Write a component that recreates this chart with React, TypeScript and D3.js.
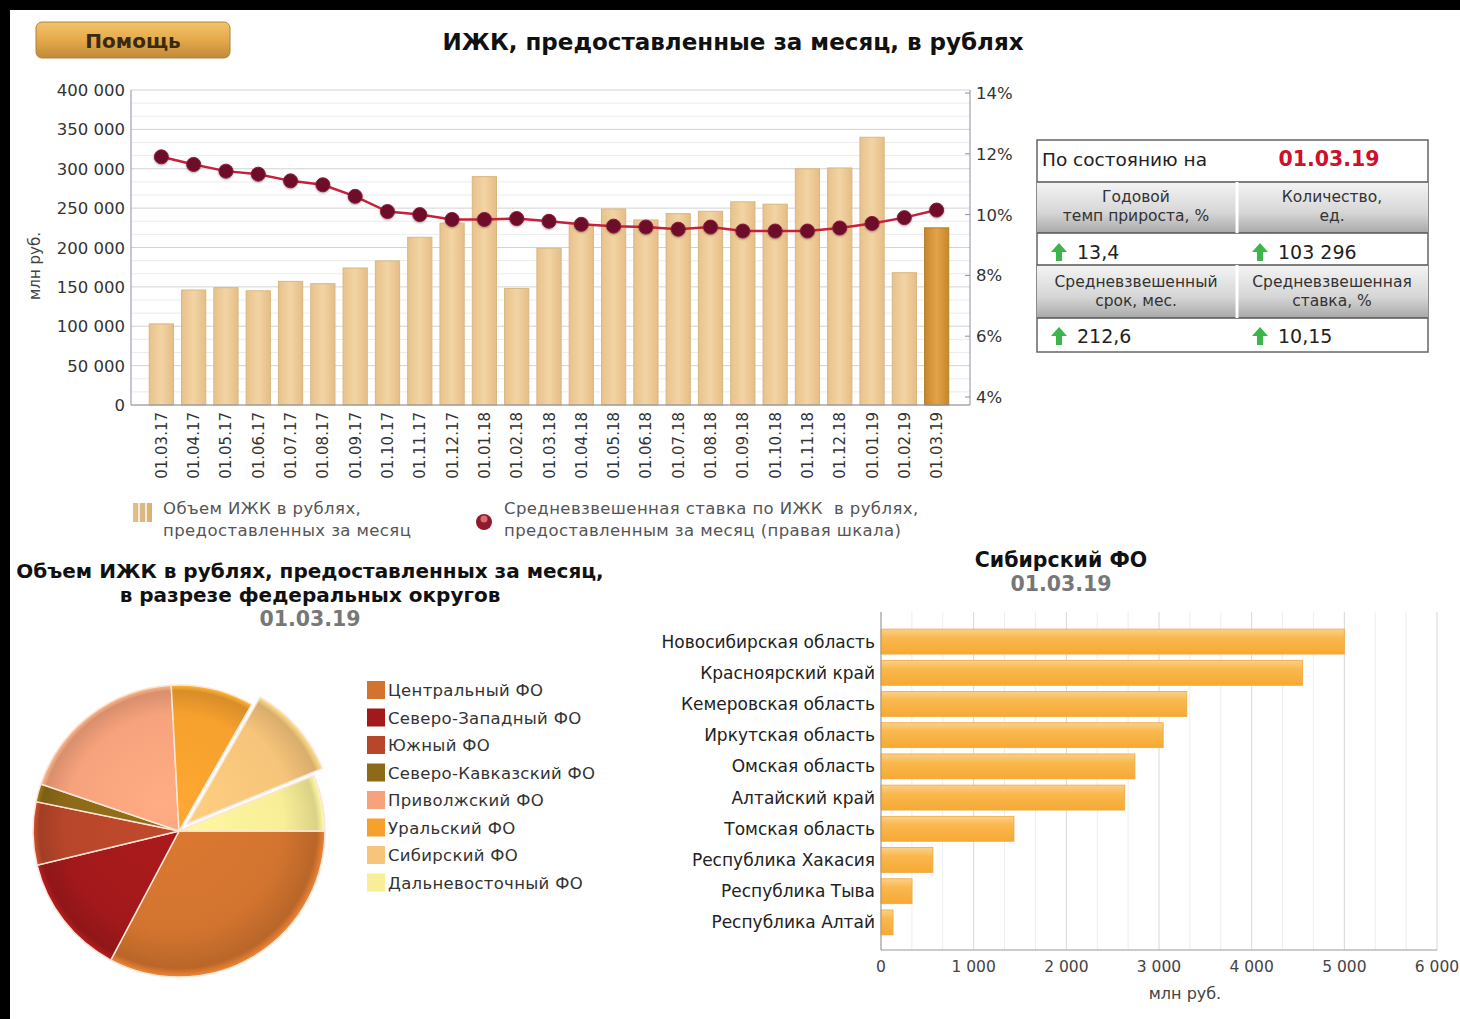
import React from "react";
import * as d3 from "d3";

const months = ["01.03.17","01.04.17","01.05.17","01.06.17","01.07.17","01.08.17","01.09.17","01.10.17","01.11.17","01.12.17","01.01.18","01.02.18","01.03.18","01.04.18","01.05.18","01.06.18","01.07.18","01.08.18","01.09.18","01.10.18","01.11.18","01.12.18","01.01.19","01.02.19","01.03.19"];
const volumes = [103000,146000,149000,145000,157000,154000,174000,183000,213000,231000,290000,148000,199000,229000,249000,235000,243000,246000,258000,255000,300000,301000,340000,168000,225000];
const rates = [11.9,11.65,11.43,11.33,11.11,10.98,10.6,10.1,10.0,9.84,9.84,9.87,9.78,9.68,9.62,9.59,9.52,9.59,9.46,9.46,9.46,9.56,9.71,9.9,10.15];
const leftTicks = [0,50000,100000,150000,200000,250000,300000,350000,400000];
const rightTicks = [4,6,8,10,12,14];

const districts = ["Центральный ФО","Северо-Западный ФО","Южный ФО","Северо-Кавказский ФО","Приволжский ФО","Уральский ФО","Сибирский ФО","Дальневосточный ФО"];
const districtValues = [74000,30500,15800,4500,42800,20700,23720,14000];
const districtColors = ["#d2742f","#a3191b","#b8462a","#8d6a18","#f6a27c","#f6a02e","#f6c47a","#f8ee98"];

const regions = ["Новосибирская область","Красноярский край","Кемеровская область","Иркутская область","Омская область","Алтайский край","Томская область","Республика Хакасия","Республика Тыва","Республика Алтай"];
const regionValues = [5000,4550,3300,3045,2740,2630,1435,560,335,130];
const regionTicks = [0,1000,2000,3000,4000,5000,6000];

const FONT = "'DejaVu Sans', Verdana, sans-serif";
const fmt = (v: number) => d3.format(",")(v).replace(/,/g, " ");

function TopChart() {
  const x0 = 131, x1 = 970, yTop = 90, yBot = 405;
  const x = d3.scaleBand().domain(months).range([x0 + 15, x1 - 18]).paddingInner(0.25).paddingOuter(0.1);
  const y = d3.scaleLinear().domain([0, 400000]).range([yBot, yTop]);
  const yr = d3.scaleLinear().domain([4, 14]).range([yBot - 8, yTop + 3]);
  const minor = d3.range(0, 400001, 50000 / 3);
  const line = d3.line<number>().x((_, i) => (x(months[i]) as number) + x.bandwidth() / 2).y(d => yr(d));
  return (
    <g>
      {minor.map((v, i) => (
        <line key={"m" + i} x1={x0} x2={x1} y1={y(v)} y2={y(v)} stroke={i % 3 === 0 ? "#d2d2d2" : "#ececec"} strokeWidth={1} />
      ))}
      {volumes.map((v, i) => {
        const last = i === volumes.length - 1;
        return (
          <rect key={i} x={x(months[i])} y={y(v)} width={x.bandwidth()} height={yBot - y(v)}
            fill={last ? "url(#barLast)" : "url(#barTan)"} stroke={last ? "#b8802a" : "#d8b782"} strokeWidth={1} />
        );
      })}
      <line x1={x0} x2={x0} y1={yTop} y2={yBot} stroke="#8a8fa3" />
      <line x1={x1} x2={x1} y1={yTop} y2={yBot} stroke="#8a8fa3" />
      <line x1={x0} x2={x1} y1={yBot} y2={yBot} stroke="#8a8fa3" />
      {leftTicks.map(t => (
        <text key={t} x={x0 - 6} y={y(t) + 6} textAnchor="end" fontSize={16.5} fill="#333" fontFamily={FONT}>{fmt(t)}</text>
      ))}
      {rightTicks.map(t => (
        <g key={t}>
          <line x1={x1 - 5} x2={x1} y1={yr(t)} y2={yr(t)} stroke="#8a8fa3" />
          <text x={x1 + 6} y={yr(t) + 6} fontSize={16.5} fill="#333" fontFamily={FONT}>{t}%</text>
        </g>
      ))}
      <text transform={`translate(40,266) rotate(-90)`} textAnchor="middle" fontSize={15} fill="#444" fontFamily={FONT}>млн руб.</text>
      {months.map(m => (
        <text key={m} transform={`translate(${(x(m) as number) + x.bandwidth() / 2 + 5.5},412) rotate(-90)`} textAnchor="end" fontSize={15} fill="#333" fontFamily={FONT}>{m}</text>
      ))}
      <path d={line(rates) as string} fill="none" stroke="#c8203c" strokeWidth={2.5} />
      {rates.map((r, i) => (
        <circle key={i} cx={(x(months[i]) as number) + x.bandwidth() / 2} cy={yr(r)} r={7} fill="#6e0b2c" stroke="#8a1a3a" strokeWidth={1} filter="url(#soft)" />
      ))}
      {/* legend */}
      <rect x={133} y={503} width={19} height={19} fill="url(#legTan)" />
      <line x1={139} x2={139} y1={503} y2={522} stroke="#fff" strokeWidth={1.5} />
      <line x1={146} x2={146} y1={503} y2={522} stroke="#fff" strokeWidth={1.5} />
      <text x={163} y={514} fontSize={16.5} letterSpacing={0.4} fill="#555" fontFamily={FONT}>Объем ИЖК в рублях,</text>
      <text x={163} y={536} fontSize={16.5} letterSpacing={0.4} fill="#555" fontFamily={FONT}>предоставленных за месяц</text>
      <circle cx={484} cy={522} r={8} fill="#8e1a2e" />
      <circle cx={484} cy={519} r={3.5} fill="#d86a70" />
      <text x={504} y={514} fontSize={16.5} letterSpacing={0.4} fill="#555" fontFamily={FONT} style={{ whiteSpace: "pre" }}>Средневзвешенная ставка по ИЖК  в рублях,</text>
      <text x={504} y={536} fontSize={16.5} letterSpacing={0.4} fill="#555" fontFamily={FONT}>предоставленным за месяц (правая шкала)</text>
    </g>
  );
}

function Arrow({ x, y }: { x: number; y: number }) {
  return <path d={`M${x},${y - 9} L${x + 8},${y} L${x + 3},${y} L${x + 3},${y + 9} L${x - 3},${y + 9} L${x - 3},${y} L${x - 8},${y} Z`} fill="#3cb54a" />;
}

function InfoTable() {
  const L = 1037, R = 1428, M = 1237;
  return (
    <g fontFamily={FONT}>
      <rect x={L} y={140} width={R - L} height={212} fill="#fff" stroke="#666" strokeWidth={1.5} />
      <text x={1042} y={166} fontSize={18.5} fill="#222">По состоянию на</text>
      <text x={1329} y={166} fontSize={20.5} fontWeight="bold" fill="#d0102a" textAnchor="middle">01.03.19</text>
      <rect x={L} y={182} width={R - L} height={51} fill="url(#hdr)" />
      <rect x={L} y={265} width={R - L} height={53} fill="url(#hdr)" />
      {[182, 233, 265, 318].map(yy => <line key={yy} x1={L} x2={R} y1={yy} y2={yy} stroke="#555" strokeWidth={1.5} />)}
      <line x1={M} x2={M} y1={182} y2={233} stroke="#fff" strokeWidth={3} />
      <line x1={M} x2={M} y1={265} y2={318} stroke="#fff" strokeWidth={3} />
      <text x={1136} y={202} fontSize={15.5} fill="#333" textAnchor="middle">Годовой</text>
      <text x={1136} y={221} fontSize={15.5} fill="#333" textAnchor="middle">темп прироста, %</text>
      <text x={1332} y={202} fontSize={15.5} fill="#333" textAnchor="middle">Количество,</text>
      <text x={1332} y={221} fontSize={15.5} fill="#333" textAnchor="middle">ед.</text>
      <text x={1136} y={287} fontSize={15.5} fill="#333" textAnchor="middle">Средневзвешенный</text>
      <text x={1136} y={306} fontSize={15.5} fill="#333" textAnchor="middle">срок, мес.</text>
      <text x={1332} y={287} fontSize={15.5} fill="#333" textAnchor="middle">Средневзвешенная</text>
      <text x={1332} y={306} fontSize={15.5} fill="#333" textAnchor="middle">ставка, %</text>
      <Arrow x={1059} y={252} />
      <text x={1077} y={259} fontSize={19} fill="#222">13,4</text>
      <Arrow x={1260} y={252} />
      <text x={1278} y={259} fontSize={19} fill="#222">103 296</text>
      <Arrow x={1059} y={336} />
      <text x={1077} y={343} fontSize={19} fill="#222">212,6</text>
      <Arrow x={1260} y={336} />
      <text x={1278} y={343} fontSize={19} fill="#222">10,15</text>
    </g>
  );
}

function PieChart() {
  const cx = 179, cy = 831, r = 146;
  const pie = d3.pie<number>().sort(null).startAngle(Math.PI / 2).endAngle(Math.PI / 2 + 2 * Math.PI)(districtValues.map(v => v));
  const arc = d3.arc<d3.PieArcDatum<number>>().innerRadius(0).outerRadius(r);
  return (
    <g fontFamily={FONT}>
      <text x={310} y={578} textAnchor="middle" fontSize={20} fontWeight="bold" fill="#111">Объем ИЖК в рублях, предоставленных за месяц,</text>
      <text x={310} y={602} textAnchor="middle" fontSize={20} fontWeight="bold" fill="#111">в разрезе федеральных округов</text>
      <text x={310} y={626} textAnchor="middle" fontSize={20.5} fontWeight="bold" fill="#777">01.03.19</text>
      {pie.map((p, i) => {
        const mid = (p.startAngle + p.endAngle) / 2;
        const off = i === 6 ? 11 : 0;
        const dx = Math.sin(mid) * off, dy = -Math.cos(mid) * off;
        return (
          <g key={i} transform={`translate(${cx + dx},${cy + dy})`}>
            <path d={arc(p) as string} fill={`url(#pg${i})`} stroke="#fbe6d6" strokeWidth={1.5} />
          </g>
        );
      })}
      {districts.map((d, i) => (
        <g key={d}>
          <rect x={367} y={681 + i * 27.5} width={18} height={18} fill={districtColors[i]} />
          <text x={388} y={696 + i * 27.5} fontSize={16.5} letterSpacing={0.3} fill="#333">{d}</text>
        </g>
      ))}
    </g>
  );
}

function RegionChart() {
  const x0 = 881, x1 = 1437, yTop = 612, yBot = 950;
  const x = d3.scaleLinear().domain([0, 6000]).range([x0, x1]);
  const y = d3.scaleBand().domain(regions).range([yTop + 14, yBot - 12]).paddingInner(0.2).paddingOuter(0.1);
  const grid = d3.range(0, 6001, 1000 / 3);
  return (
    <g fontFamily={FONT}>
      <text x={1061} y={567} textAnchor="middle" fontSize={20.5} fontWeight="bold" fill="#111">Сибирский ФО</text>
      <text x={1061} y={591} textAnchor="middle" fontSize={20.5} fontWeight="bold" fill="#777">01.03.19</text>
      {grid.map((g, i) => (
        <line key={i} x1={x(g)} x2={x(g)} y1={yTop} y2={yBot} stroke={i % 3 === 0 ? "#d8d8d8" : "#eeeeee"} />
      ))}
      {regionValues.map((v, i) => (
        <rect key={i} x={x0} y={y(regions[i])} width={x(v) - x0} height={y.bandwidth()} fill="url(#obar)" stroke="#f0a840" strokeWidth={0.8} />
      ))}
      <line x1={x0} x2={x0} y1={yTop} y2={yBot} stroke="#999" />
      <line x1={x0} x2={x1} y1={yBot} y2={yBot} stroke="#999" />
      {regions.map(rg => (
        <text key={rg} x={x0 - 6} y={(y(rg) as number) + y.bandwidth() / 2 + 6} textAnchor="end" fontSize={17} fill="#222">{rg}</text>
      ))}
      {regionTicks.map(t => (
        <text key={t} x={x(t)} y={972} textAnchor="middle" fontSize={15.5} fill="#444">{fmt(t)}</text>
      ))}
      <text x={1185} y={999} textAnchor="middle" fontSize={16} fill="#444">млн руб.</text>
    </g>
  );
}

function shade(c: string, k: number) {
  const col = d3.color(c) as d3.RGBColor;
  return k > 0 ? col.brighter(k).formatHex() : col.darker(-k).formatHex();
}

export default function App() {
  return (
    <svg width={1460} height={1019} style={{ position: "absolute", left: 0, top: 0, background: "#fff" }}>
      <defs>
        <linearGradient id="barTan" x1="0" x2="1" y1="0" y2="0">
          <stop offset="0" stopColor="#e8c28c" />
          <stop offset="0.5" stopColor="#f2d4a4" />
          <stop offset="1" stopColor="#e6bd86" />
        </linearGradient>
        <linearGradient id="barLast" x1="0" x2="1" y1="0" y2="0">
          <stop offset="0" stopColor="#c8862c" />
          <stop offset="0.5" stopColor="#e2a448" />
          <stop offset="1" stopColor="#c98628" />
        </linearGradient>
        <linearGradient id="legTan" x1="0" x2="1">
          <stop offset="0" stopColor="#e2bf8a" />
          <stop offset="1" stopColor="#d8b07a" />
        </linearGradient>
        <linearGradient id="hdr" x1="0" x2="0" y1="0" y2="1">
          <stop offset="0" stopColor="#f4f4f4" />
          <stop offset="0.6" stopColor="#d6d6d6" />
          <stop offset="1" stopColor="#a8a8a8" />
        </linearGradient>
        <linearGradient id="obar" x1="0" x2="0" y1="0" y2="1">
          <stop offset="0" stopColor="#fcd089" />
          <stop offset="0.35" stopColor="#f9b84e" />
          <stop offset="1" stopColor="#f6a934" />
        </linearGradient>
        <linearGradient id="btn" x1="0" x2="0" y1="0" y2="1">
          <stop offset="0" stopColor="#f2c46a" />
          <stop offset="0.5" stopColor="#e4a94a" />
          <stop offset="1" stopColor="#c08a3a" />
        </linearGradient>
        {districtColors.map((c, i) => (
          <radialGradient key={i} id={`pg${i}`} gradientUnits="userSpaceOnUse" cx={0} cy={0} r={146} fx={-20} fy={-30}>
            <stop offset="0" stopColor={shade(c, 0.15)} />
            <stop offset="0.75" stopColor={c} />
            <stop offset="0.95" stopColor={shade(c, -0.35)} />
            <stop offset="1" stopColor={shade(c, 0.4)} />
          </radialGradient>
        ))}
        <filter id="soft" x="-50%" y="-50%" width="200%" height="200%">
          <feDropShadow dx="0" dy="1" stdDeviation="1" floodColor="#000" floodOpacity="0.35" />
        </filter>
      </defs>
      <rect x={0} y={0} width={1460} height={10} fill="#000" />
      <rect x={0} y={0} width={10} height={1019} fill="#000" />
      <rect x={36} y={22} width={194} height={36} rx={6} fill="url(#btn)" stroke="#b08040" />
      <text x={133} y={48} textAnchor="middle" fontSize={20} fontWeight="bold" fill="#3a2a10" fontFamily={FONT}>Помощь</text>
      <text x={733} y={50} textAnchor="middle" fontSize={23} fontWeight="bold" fill="#111" fontFamily={FONT}>ИЖК, предоставленные за месяц, в рублях</text>
      <TopChart />
      <InfoTable />
      <PieChart />
      <RegionChart />
    </svg>
  );
}
